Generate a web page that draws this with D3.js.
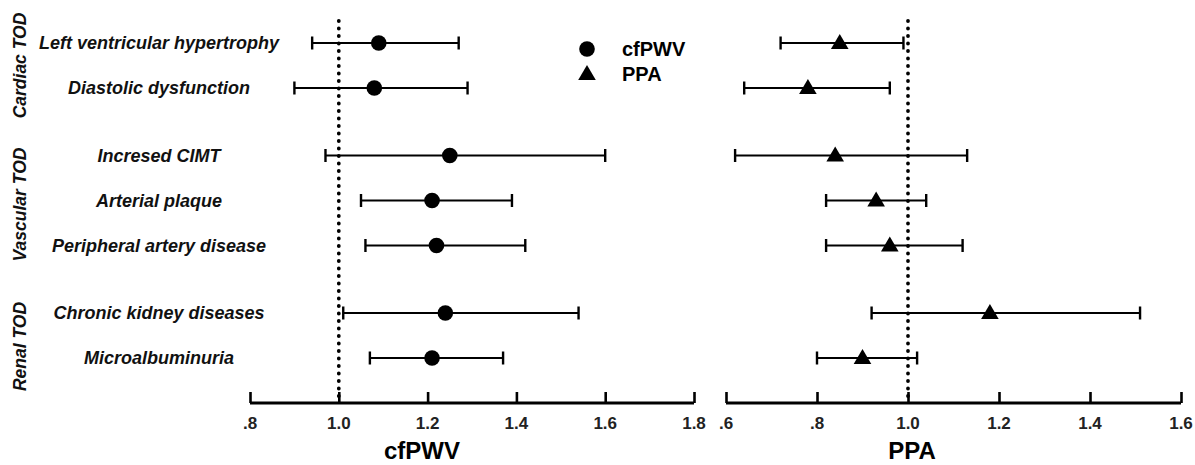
<!DOCTYPE html>
<html><head><meta charset="utf-8">
<script src="https://cdn.jsdelivr.net/npm/d3@7"></script>
<style>body{margin:0;background:#fff}svg{display:block}text{font-family:"Liberation Sans",Arial,sans-serif}</style>
</head><body><svg id="c" width="1195" height="465"></svg>
<script>
const groups = ["Cardiac TOD", "Vascular TOD", "Renal TOD"];
const outcomes = ["Left ventricular hypertrophy","Diastolic dysfunction","Incresed CIMT","Arterial plaque","Peripheral artery disease","Chronic kidney diseases","Microalbuminuria"];
const outcomeGroup = [0,0,1,1,1,2,2];
const cfpwvEst = [1.09,1.08,1.25,1.21,1.22,1.24,1.21];
const cfpwvLow = [0.94,0.90,0.97,1.05,1.06,1.01,1.07];
const cfpwvHigh = [1.27,1.29,1.60,1.39,1.42,1.54,1.37];
const ppaEst = [0.85,0.78,0.84,0.93,0.96,1.18,0.90];
const ppaLow = [0.72,0.64,0.62,0.82,0.82,0.92,0.80];
const ppaHigh = [0.99,0.96,1.13,1.04,1.12,1.51,1.02];
const cfpwvTicks = [0.8,1.0,1.2,1.4,1.6,1.8];
const cfpwvTickLabels = [".8","1.0","1.2","1.4","1.6","1.8"];
const ppaTicks = [0.6,0.8,1.0,1.2,1.4,1.6];
const ppaTickLabels = [".6",".8","1.0","1.2","1.4","1.6"];
const legendNames = ["cfPWV","PPA"];

const svg = d3.select("#c");
const rowPos = outcomes.map((d,i)=> i + outcomeGroup[i]*0.5);
const y = d3.scaleLinear().domain([0,7]).range([43,358]);
const axisY = 403;

function panel(x, est, low, high, ticks, tickLabels, title, titleX, symbolType){
  const g = svg.append("g");
  g.append("line").attr("x1",x(1)).attr("x2",x(1)).attr("y1",21).attr("y2",axisY)
    .attr("stroke","#000").attr("stroke-width",3.8).attr("stroke-linecap","round").attr("stroke-dasharray","0 7.5");
  const ax = d3.axisTop(x).tickValues(ticks).tickSize(11).tickSizeOuter(0).tickFormat(()=> "");
  const axg = g.append("g").attr("transform",`translate(0,${axisY})`).call(ax);
  axg.select(".domain").attr("stroke-width",3).attr("d",`M${x.range()[0]},0H${x.range()[1]}`);
  axg.selectAll(".tick line").attr("stroke-width",2.6);
  g.selectAll(".tl").data(ticks).join("text").attr("x",(d)=>x(d)).attr("y",429)
    .attr("text-anchor","middle").attr("font-size",17).attr("font-weight","bold").attr("fill","#222")
    .text((d,i)=>tickLabels[i]);
  g.append("text").attr("x",titleX).attr("y",459).attr("text-anchor","middle")
    .attr("font-size",24).attr("font-weight","bold").text(title);
  const rows = outcomes.map((d,i)=>({i, e:est[i], l:low[i], h:high[i], p:rowPos[i]}));
  const eb = g.selectAll(".eb").data(rows).join("g");
  eb.append("line").attr("x1",d=>x(d.l)).attr("x2",d=>x(d.h)).attr("y1",d=>y(d.p)).attr("y2",d=>y(d.p))
    .attr("stroke","#000").attr("stroke-width",2.2);
  eb.append("line").attr("x1",d=>x(d.l)).attr("x2",d=>x(d.l)).attr("y1",d=>y(d.p)-6.5).attr("y2",d=>y(d.p)+6.5)
    .attr("stroke","#000").attr("stroke-width",2.4);
  eb.append("line").attr("x1",d=>x(d.h)).attr("x2",d=>x(d.h)).attr("y1",d=>y(d.p)-6.5).attr("y2",d=>y(d.p)+6.5)
    .attr("stroke","#000").attr("stroke-width",2.4);
  if(symbolType==="circle"){
    eb.append("circle").attr("cx",d=>x(d.e)).attr("cy",d=>y(d.p)).attr("r",7.8).attr("fill","#000");
  } else {
    eb.append("path").attr("transform",d=>`translate(${x(d.e)},${y(d.p)})`)
      .attr("d","M0,-9L8.8,6L-8.8,6Z").attr("fill","#000");
  }
}

const xL = d3.scaleLinear().domain([0.8,1.8]).range([250,694]);
const xR = d3.scaleLinear().domain([0.6,1.6]).range([726,1181]);
panel(xL, cfpwvEst, cfpwvLow, cfpwvHigh, cfpwvTicks, cfpwvTickLabels, "cfPWV", 422, "circle");
panel(xR, ppaEst, ppaLow, ppaHigh, ppaTicks, ppaTickLabels, "PPA", 912, "triangle");

svg.selectAll(".rl").data(outcomes).join("text").attr("x",159).attr("y",(d,i)=>y(rowPos[i])+6)
  .attr("text-anchor","middle").attr("font-size",18).attr("font-weight","bold").attr("font-style","italic")
  .attr("fill","#111").text(d=>d);

const gOff = [0,4,11];
groups.forEach((gname,gi)=>{
  const ps = rowPos.filter((p,i)=>outcomeGroup[i]===gi);
  const cy = y(d3.mean(ps)) + gOff[gi];
  svg.append("text").attr("transform",`translate(26,${cy}) rotate(-90)`).attr("text-anchor","middle")
    .attr("font-size",17.5).attr("font-style","italic").attr("font-weight","bold").attr("fill","#111").text(gname);
});

const leg = svg.append("g");
legendNames.forEach((n,i)=>{
  const ly = 49 + i*25;
  if(i===0) leg.append("circle").attr("cx",587).attr("cy",ly).attr("r",7.8).attr("fill","#000");
  else leg.append("path").attr("transform",`translate(587,${ly})`).attr("d","M0,-9L8.8,6L-8.8,6Z").attr("fill","#000");
  leg.append("text").attr("x",622).attr("y",ly+7).attr("font-size",20).attr("font-weight","bold").text(n);
});
</script></body></html>
